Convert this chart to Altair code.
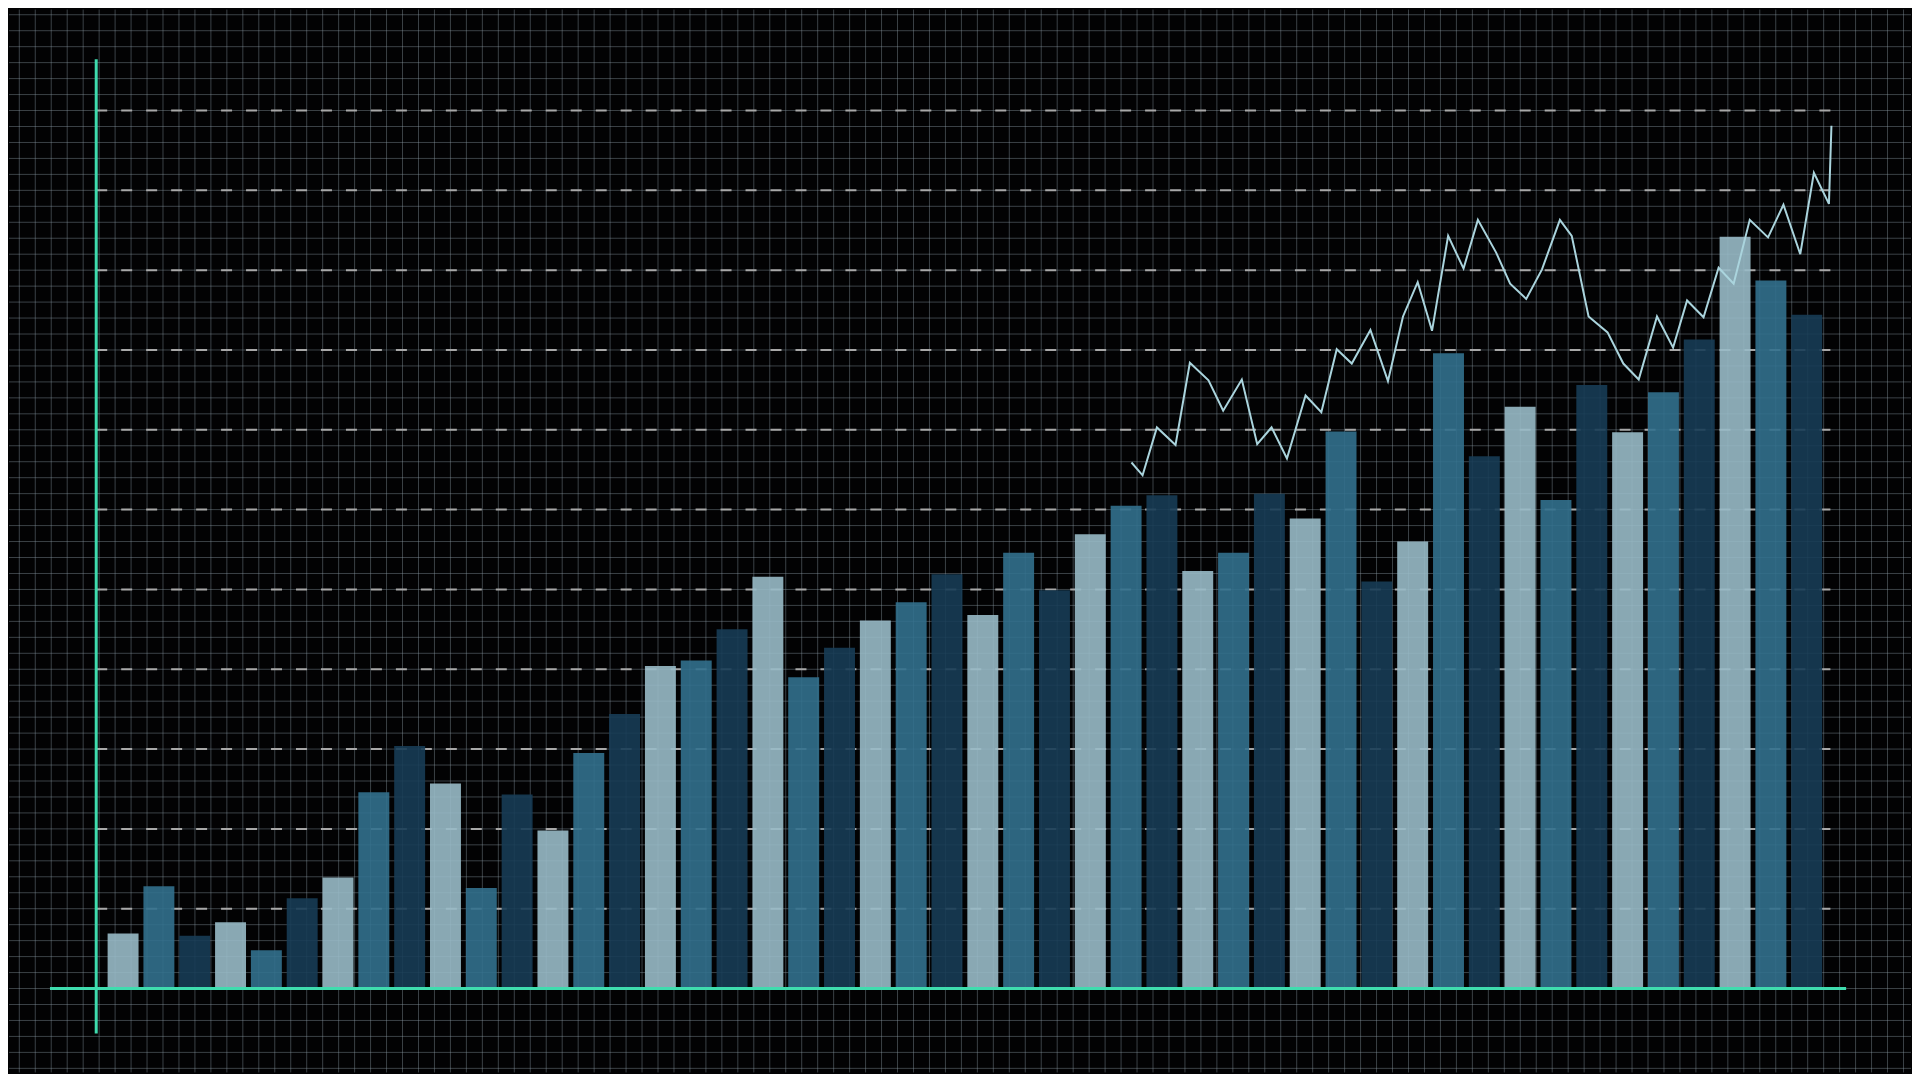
import altair as alt
import pandas as pd

# Bar heights (in units of the dashed reference lines)
bar_values = [0.69, 1.28, 0.66, 0.83, 0.48, 1.13, 1.39, 2.46, 3.04, 2.57,
              1.26, 2.43, 1.98, 2.95, 3.44, 4.04, 4.11, 4.50, 5.16, 3.90,
              4.27, 4.61, 4.84, 5.19, 4.68, 5.46, 4.99, 5.69, 6.05, 6.18,
              5.23, 5.46, 6.20, 5.89, 6.98, 5.10, 5.60, 7.96, 6.67, 7.29,
              6.12, 7.56, 6.97, 7.47, 8.13, 9.42, 8.87, 8.44]
bar_tones = ["light", "mid", "dark"]
bar_colors = ["#98bac6", "#32708d", "#173c55"]

# Overlay line (x in bar-index units, y in reference-line units)
line_x = [28.15, 28.46, 28.86, 29.38, 29.78, 30.30, 30.71, 31.23, 31.66, 32.06,
          32.49, 33.01, 33.45, 33.88, 34.30, 34.82, 35.31, 35.73, 36.14, 36.54,
          36.99, 37.42, 37.82, 38.33, 38.72, 39.17, 39.61, 40.11, 40.44, 40.91,
          41.44, 41.88, 42.31, 42.82, 43.27, 43.66, 44.12, 44.54, 44.96, 45.41,
          45.92, 46.35, 46.82, 47.20, 47.62, 47.69]
line_y = [6.59, 6.43, 7.03, 6.81, 7.84, 7.62, 7.24, 7.63, 6.82, 7.03,
          6.64, 7.43, 7.22, 8.01, 7.83, 8.25, 7.61, 8.42, 8.85, 8.24,
          9.43, 9.02, 9.63, 9.22, 8.83, 8.64, 9.01, 9.63, 9.43, 8.42,
          8.22, 7.83, 7.63, 8.42, 8.03, 8.62, 8.41, 9.03, 8.83, 9.63,
          9.41, 9.82, 9.20, 10.22, 9.83, 10.81]

dash_levels = list(range(1, 12))
grid_cols = list(range(0, 119))
grid_rows = [k / 5 for k in range(-5, 62)]

n = len(bar_values)
bars_df = pd.DataFrame({
    "i": list(range(n)),
    "v": bar_values,
    "tone": [bar_tones[k % 3] for k in range(n)],
})
line_df = pd.DataFrame({"lx": line_x, "ly": line_y, "idx": list(range(len(line_x)))})
one = pd.DataFrame({"a": [0]})

XS = alt.Scale(domain=[-3.1846, 49.911], nice=False, zero=False)
YS = alt.Scale(domain=[-1.0513, 12.265], nice=False, zero=False)
GS = alt.Scale(domain=[-0.6444, 118.47], nice=False, zero=False)

grid_v = alt.Chart(pd.DataFrame({"g": grid_cols})).mark_rule(
    color="#8c9aa6", strokeWidth=1, opacity=0.42
).encode(x=alt.X("g:Q", scale=GS, axis=None))

grid_h = alt.Chart(pd.DataFrame({"k": grid_rows})).mark_rule(
    color="#8c9aa6", strokeWidth=1, opacity=0.42
).encode(y=alt.Y("k:Q", scale=YS, axis=None))

dashes = alt.Chart(pd.DataFrame({"lvl": dash_levels})).mark_rule(
    color="#a8a8a8", strokeWidth=2, strokeDash=[11, 14]
).transform_calculate(
    xa="-0.75", xb="47.68"
).encode(
    y=alt.Y("lvl:Q", scale=YS, axis=None),
    x=alt.X("xa:Q", scale=XS, axis=None),
    x2="xb:Q",
)

bars = alt.Chart(bars_df).mark_rect(opacity=0.9).transform_calculate(
    x0="datum.i - 0.432", x1="datum.i + 0.432", base="0"
).encode(
    x=alt.X("x0:Q", scale=XS, axis=None),
    x2="x1:Q",
    y=alt.Y("base:Q", scale=YS, axis=None),
    y2="v:Q",
    color=alt.Color("tone:N", scale=alt.Scale(domain=bar_tones, range=bar_colors), legend=None),
)

line = alt.Chart(line_df).mark_line(color="#aad4dd", strokeWidth=2).encode(
    x=alt.X("lx:Q", scale=XS, axis=None),
    y=alt.Y("ly:Q", scale=YS, axis=None),
    order="idx:Q",
)

y_axis = alt.Chart(one).mark_rule(color="#3fdcae", strokeWidth=3).transform_calculate(
    ax="-0.75", ya="-0.563", yb="11.643"
).encode(
    x=alt.X("ax:Q", scale=XS, axis=None),
    y=alt.Y("ya:Q", scale=YS, axis=None),
    y2="yb:Q",
)
x_axis = alt.Chart(one).mark_rule(color="#3fdcae", strokeWidth=3).transform_calculate(
    ay="0", xa="-2.041", xb="48.10"
).encode(
    y=alt.Y("ay:Q", scale=YS, axis=None),
    x=alt.X("xa:Q", scale=XS, axis=None),
    x2="xb:Q",
)

chart = alt.layer(grid_v, grid_h, dashes, bars, line, y_axis, x_axis).resolve_scale(
    x="independent", y="independent"
).properties(
    width=1904, height=1064, padding=0, background="#020203"
).configure_view(stroke=None)

chart.save("out.html", embed_options={"renderer": "svg", "actions": False})
